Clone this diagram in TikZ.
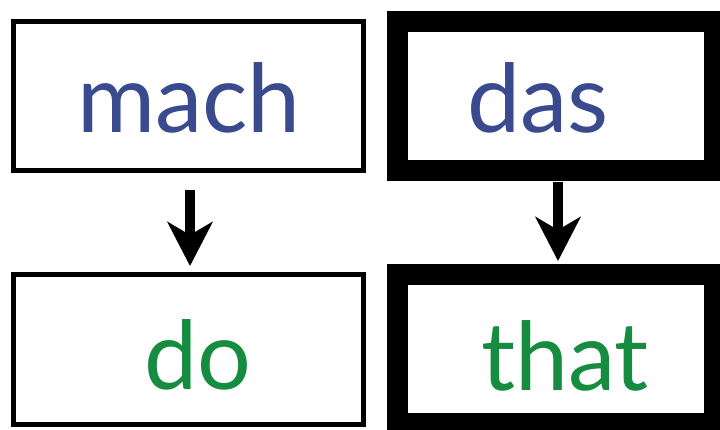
\documentclass[tikz,border=0pt]{standalone}
\usepackage{fontspec}
\setmainfont{Lato}
\usetikzlibrary{arrows.meta,calc}
\definecolor{wblue}{RGB}{58,74,143}
\definecolor{wgreen}{RGB}{22,140,64}
\tikzset{
  thinbox/.style={draw=black, line width=5pt, inner sep=0pt, fill=white},
  thickbox/.style={draw=black, line width=21pt, inner sep=0pt, fill=white},
  word/.style={anchor=base, inner sep=0pt, font=\fontsize{95}{95}\selectfont},
  arr/.style={line width=10pt, -{Stealth[length=44pt, width=45pt, inset=13pt]}}
}
\begin{document}
\begin{tikzpicture}[x=1pt,y=1pt]
\useasboundingbox (0,0) rectangle (720,430);
\node[thinbox, minimum width=349.5pt, minimum height=149pt] (mbox) at (188.25,334) {};
\node[thickbox, minimum width=317pt, minimum height=149.5pt] (dbox) at (556,333.75) {};
\node[thinbox, minimum width=349.5pt, minimum height=149.5pt] (obox) at (188.25,80.25) {};
\node[thickbox, minimum width=317pt, minimum height=149pt] (tbox) at (556,80.5) {};
\node[word, text=wblue] (mach) at (189,297) {mach};
\node[word, text=wblue] (das) at (538,297) {das};
\node[word, text=wgreen] (do) at (198,40) {do};
\node[word, text=wgreen] (that) at (565,39) {that};
\coordinate (a1s) at ([xshift=1.75pt,yshift=-17pt]mbox.south);
\coordinate (a1e) at ([xshift=1.75pt,yshift=6.5pt]obox.north);
\coordinate (a2s) at ([xshift=2pt,yshift=-0.5pt]dbox.south);
\coordinate (a2e) at ([xshift=2pt,yshift=3.5pt]tbox.north);
\draw[arr] (a1s) -- (a1e);
\draw[arr] (a2s) -- (a2e);
\end{tikzpicture}
\end{document}
